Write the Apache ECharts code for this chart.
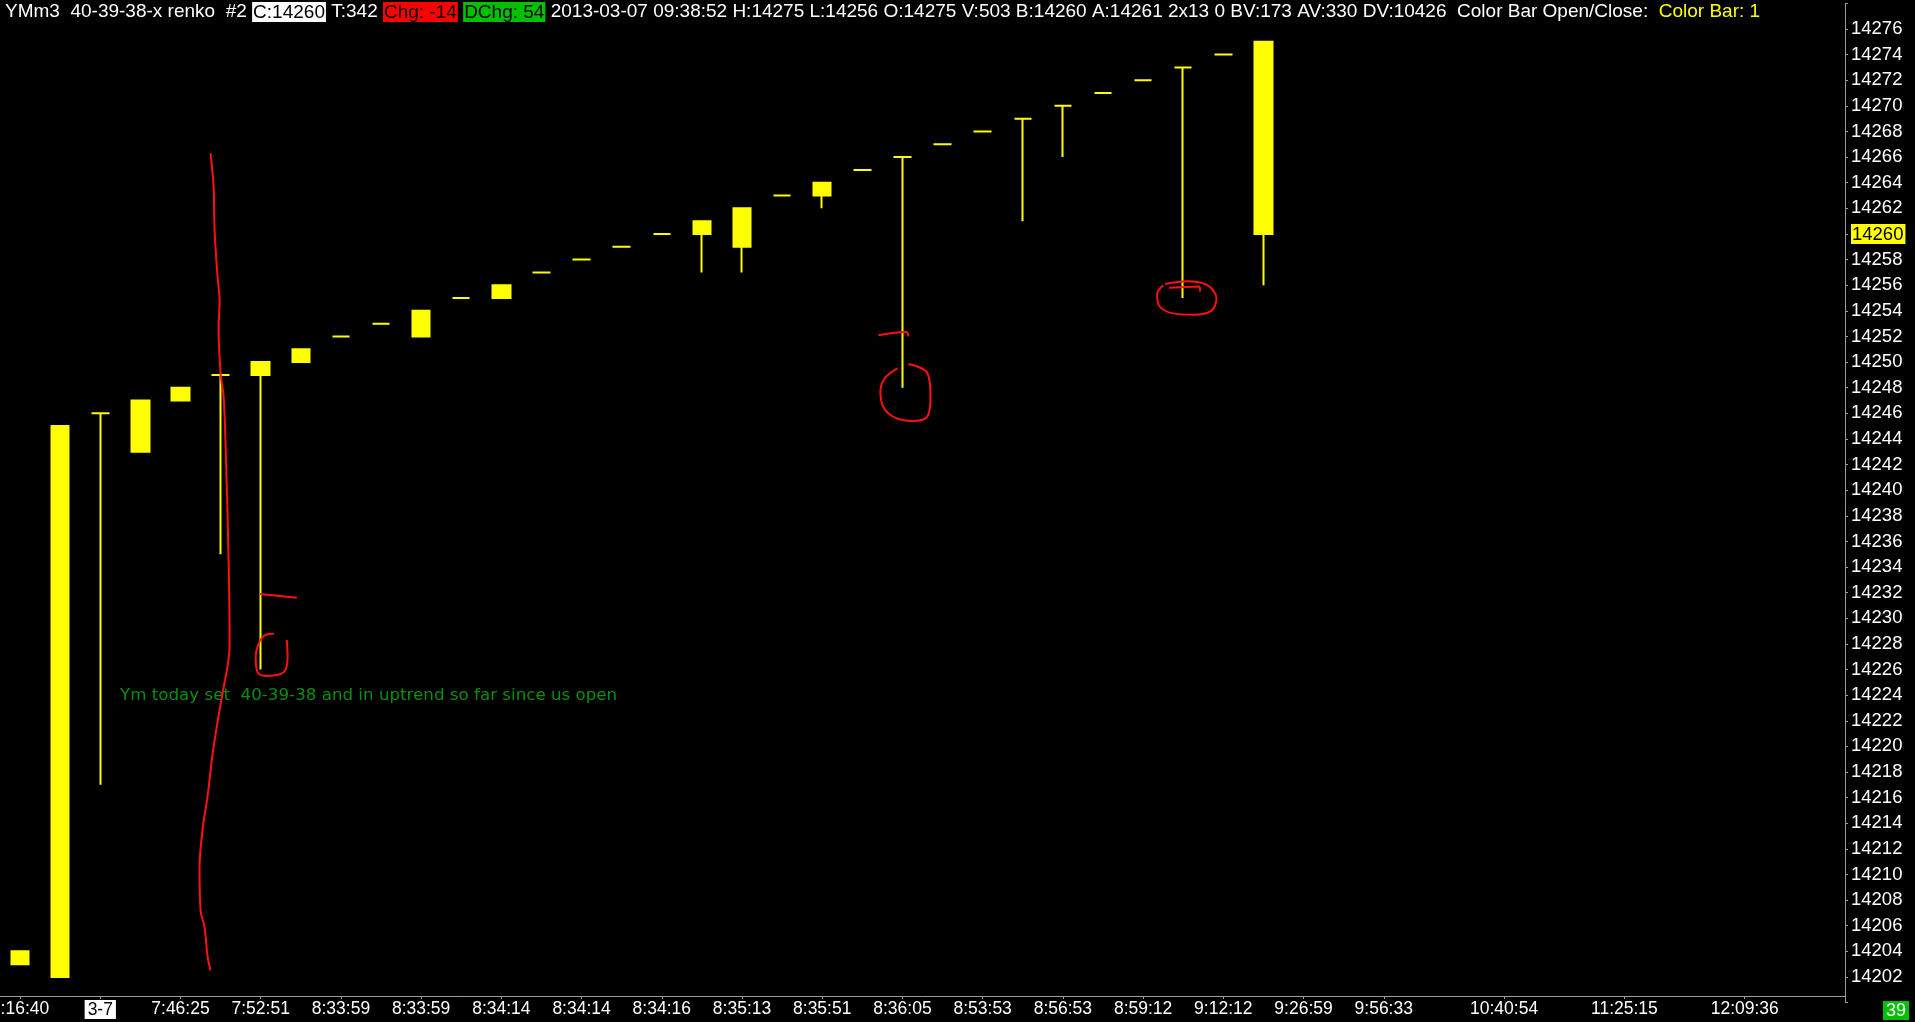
<!DOCTYPE html>
<html>
<head>
<meta charset="utf-8">
<script src="https://cdn.jsdelivr.net/npm/echarts@6/dist/echarts.min.js"></script>
<style>
html,body{margin:0;padding:0;background:#000;}
#chart{width:1915px;height:1022px;}
</style>
</head>
<body>
<div id="chart"></div>
<script>
// ---- data ----
const categories = ['3:16:40','','3-7','','7:46:25','','7:52:51','','8:33:59','','8:33:59','','8:34:14','','8:34:14','','8:34:16','','8:35:13','','8:35:51','','8:36:05','','8:53:53','','8:56:53','','8:59:12','','9:12:12','','9:26:59','','9:56:33','','','10:40:54','','','11:25:15','','','12:09:36','',''];
const opens  = [14203,14202,14246,14243,14247,14249,14249,14250,14252,14253,14252,14255,14255,14257,14258,14259,14260,14260,14259,14263,14263,14265,14266,14267,14268,14269,14270,14271,14272,14273,14274,14275];
const closes = [14204,14245,14246,14247,14248,14249,14250,14251,14252,14253,14254,14255,14256,14257,14258,14259,14260,14261,14262,14263,14264,14265,14266,14267,14268,14269,14270,14271,14272,14273,14274,14260];
const lows   = [14203,14202,14217,14243,14247,14235,14226,14250,14252,14253,14252,14255,14255,14257,14258,14259,14260,14257,14257,14263,14262,14265,14248,14267,14268,14261,14266,14271,14272,14255,14274,14256];
const highs  = [14204,14245,14246,14247,14248,14249,14250,14251,14252,14253,14254,14255,14256,14257,14258,14259,14260,14261,14262,14263,14264,14265,14266,14267,14268,14269,14270,14271,14272,14273,14274,14275];
const lastPrice = 14260;

// hand-drawn red annotations (x in bar-index units, y in price)
const redSquiggle = [[4.75,14266.3],[4.825,14263.7],[4.85,14260.3],[4.925,14256.6],[4.975,14254.8],[4.95,14252.7],[5.0,14249.1],[5.075,14247.3],[5.125,14243.4],[5.2,14234.5],[5.225,14227.9],[5.175,14226.3],[5.075,14224.6],[4.95,14222.4],[4.8,14219.4],[4.675,14216.1],[4.55,14213.5],[4.475,14210.5],[4.5,14207.2],[4.6,14205.9],[4.675,14203.6],[4.75,14202.5]];
const redTick1 = [[5.98,14231.9],[6.9,14231.6]];
const redCircle1 = [[6.65,14228.3],[6.67,14227.0],[6.58,14225.8],[6.17,14225.5],[5.92,14225.8],[5.875,14227.0],[5.96,14228.1],[6.12,14228.7],[6.33,14228.8]];
const redTick2 = [[21.4,14252.1],[22.1,14252.35],[22.15,14252.0]];
const redCircle2 = [[22.15,14249.85],[22.61,14249.2],[22.7,14247.3],[22.61,14245.7],[22.25,14245.4],[21.64,14246.0],[21.45,14247.6],[21.55,14248.7],[21.875,14249.5]];
const redTick3 = [[28.65,14255.8],[29.4,14255.9],[29.42,14255.5]];
const redCircle3 = [[28.55,14256.1],[29.1,14256.3],[29.6,14256.0],[29.83,14255.0],[29.7,14254.0],[29.25,14253.7],[28.75,14253.8],[28.4,14254.4],[28.35,14255.3],[28.5,14256.0]];

const headerText = '{w|YMm3  40-39-38-x renko  #2 }{cb|C:14260}{w| T:342 }{rb|Chg: -14}{w| }{gb|DChg: 54}{w| 2013-03-07 09:38:52 H:14275 L:14256 O:14275 V:503 B:14260 A:14261 2x13 0 BV:173 AV:330 DV:10426  Color Bar Open/Close:  }{y|Color Bar: 1}';
const noteText = 'Ym today set  40-39-38 and in uptrend so far since us open';

// ---- chart ----
const chart = echarts.init(document.getElementById('chart'));
const candleData = opens.map((o, i) => [o, closes[i], lows[i], highs[i]]);
const YEL = '#ffff00';
const redLine = (d) => ({
  type: 'line', xAxisIndex: 1, yAxisIndex: 0, data: d, symbol: 'none', smooth: 0.35,
  silent: true, z: 5, lineStyle: {color: '#ff1010', width: 2}
});
const FONT = 'Liberation Sans';
const HF = 19;

chart.setOption({
  backgroundColor: '#000',
  animation: false,
  grid: {left: 0, top: 3.38, width: 1845, height: 999.2, containLabel: false, outerBoundsMode: 'none'},
  xAxis: [{
    type: 'category', data: categories, boundaryGap: true, offset: -6.56,
    axisLine: {show: true, onZero: false, lineStyle: {color: '#9c9c9c', width: 1}},
    axisTick: {show: true, alignWithLabel: true, length: 3, interval: (i, v) => v !== '', lineStyle: {color: '#9c9c9c'}},
    axisLabel: {
      interval: 0, hideOverlap: false, margin: 4, color: '#fff', fontFamily: FONT, fontSize: 17.5,
      formatter: (v) => v === '3-7' ? '{d|3-7}' : v,
      rich: {d: {backgroundColor: '#fff', color: '#000', fontFamily: FONT, fontSize: 17.5, padding: [1, 3, 0, 3]}}
    },
    splitLine: {show: false}
  }, {
    type: 'value', min: -0.5, max: 45.5, show: false
  }],
  yAxis: {
    type: 'value', position: 'right', min: 14200, max: 14278, interval: 2, scale: true,
    axisLine: {show: true, onZero: false, lineStyle: {color: '#9c9c9c', width: 1}},
    axisTick: {show: true, length: 3, lineStyle: {color: '#9c9c9c'}},
    splitLine: {show: false},
    axisLabel: {
      margin: 6, color: '#fff', fontFamily: FONT, fontSize: 18.5,
      formatter: (v) => {
        if (v < 14201 || v > 14277) return '';
        return v === lastPrice ? '{h|' + v + '}' : String(v);
      },
      rich: {h: {backgroundColor: YEL, color: '#000', fontFamily: FONT, fontSize: 18.5, padding: [1, 2, 0, 1]}}
    }
  },
  series: [{
    type: 'candlestick', data: candleData, barWidth: 18,
    itemStyle: {color: YEL, color0: YEL, borderColor: YEL, borderColor0: YEL, borderWidth: 2},
    z: 3
  },
  redLine(redSquiggle), redLine(redTick1), redLine(redCircle1), redLine(redTick2),
  redLine(redCircle2), redLine(redTick3), redLine(redCircle3)],
  graphic: [{
    type: 'text', left: 5, top: 2, z: 10,
    style: {
      text: headerText, fontFamily: FONT, fontSize: HF, fill: '#fff',
      rich: {
        w: {fill: '#fff', fontFamily: FONT, fontSize: HF},
        cb: {fill: '#000', backgroundColor: '#fff', fontFamily: FONT, fontSize: HF, padding: [1, 1, 0, 1]},
        rb: {fill: '#000', backgroundColor: '#ff0000', fontFamily: FONT, fontSize: HF, padding: [1, 1, 0, 1]},
        gb: {fill: '#000', backgroundColor: '#00c000', fontFamily: FONT, fontSize: HF, padding: [1, 1, 0, 1]},
        y: {fill: YEL, fontFamily: FONT, fontSize: HF}
      }
    }
  }, {
    type: 'text', left: 120, top: 687, z: 4,
    style: {text: noteText, fill: '#0a8f0a', fontFamily: 'DejaVu Sans', fontSize: 16.7}
  }, {
    type: 'text', right: 6, bottom: 2, z: 10,
    style: {text: '39', fill: '#fff', backgroundColor: '#00c000', fontFamily: FONT, fontSize: 18, padding: [1, 3, 0, 3]}
  }]
});
</script>
</body>
</html>
